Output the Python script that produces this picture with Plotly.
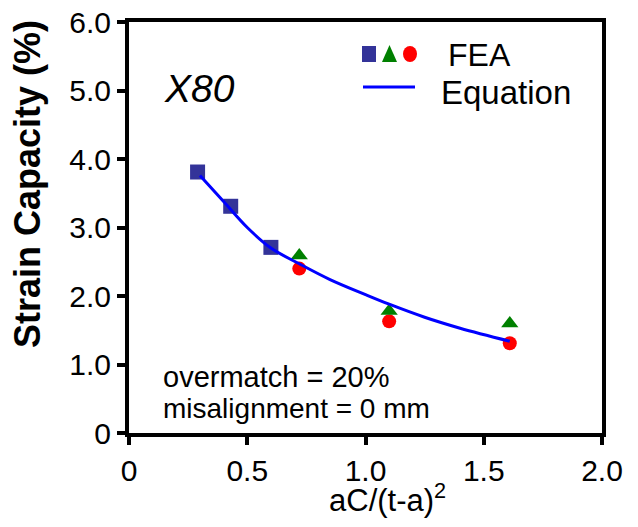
import plotly.graph_objects as go

# Data
sq_x = [0.29, 0.43, 0.60]
sq_y = [3.81, 3.31, 2.71]
tri_x = [0.72, 1.10, 1.61]
tri_y = [2.59, 1.78, 1.60]
cir_x = [0.72, 1.10, 1.61]
cir_y = [2.40, 1.63, 1.31]
eq_x = [0.30, 0.40, 0.50, 0.60, 0.72, 0.85, 1.00, 1.10, 1.25, 1.40, 1.61]
eq_y = [3.76, 3.38, 3.00, 2.70, 2.47, 2.24, 2.02, 1.88, 1.69, 1.53, 1.34]

x_ticks = [0, 0.5, 1.0, 1.5, 2.0]
x_ticktext = ["0", "0.5", "1.0", "1.5", "2.0"]
y_ticks = [0, 1, 2, 3, 4, 5, 6]
y_ticktext = ["0", "1.0", "2.0", "3.0", "4.0", "5.0", "6.0"]

FONT = "Liberation Sans, Arial, Helvetica, sans-serif"
NAVY = "#333399"
GREEN = "#008000"
RED = "#FF0000"
BLUE = "#0000FF"

fig = go.Figure()
fig.add_trace(go.Scatter(x=sq_x, y=sq_y, mode="markers",
                         marker=dict(symbol="square", size=15, color=NAVY, line=dict(width=0)),
                         showlegend=False))
fig.add_trace(go.Scatter(x=cir_x, y=cir_y, mode="markers",
                         marker=dict(symbol="circle", size=14, color=RED, line=dict(width=0)),
                         showlegend=False))
fig.add_trace(go.Scatter(x=tri_x, y=tri_y, mode="markers",
                         marker=dict(symbol="triangle-up", size=15, color=GREEN, line=dict(width=0)),
                         showlegend=False))
fig.add_trace(go.Scatter(x=eq_x, y=eq_y, mode="lines",
                         line=dict(color=BLUE, width=3, shape="spline"),
                         showlegend=False))

# page body margin offset (8px) -> figure is 622x511 placed at (8,8)
OFF = 8
FW, FH = 638 - 2 * OFF, 527 - 2 * OFF
# Plot area in reference pixels: left 129, right 602, top 22, bottom 433
L, R, T, B = 129, 602, 22, 433
W, H = R - L, B - T


def px(X):
    return (X - L) / W


def py(Y):
    return (B - Y) / H


shapes = [
    dict(type="rect", xref="paper", yref="paper", x0=px(362), x1=px(376), y0=py(62), y1=py(46),
         fillcolor=NAVY, line=dict(width=0)),
    dict(type="path", xref="paper", yref="paper",
         path=f"M {px(382)} {py(62)} L {px(397)} {py(62)} L {px(389.5)} {py(45)} Z",
         fillcolor=GREEN, line=dict(width=0)),
    dict(type="circle", xref="paper", yref="paper", x0=px(403), x1=px(417), y0=py(62), y1=py(46),
         fillcolor=RED, line=dict(width=0)),
    dict(type="line", xref="paper", yref="paper", x0=px(363), x1=px(415), y0=py(87), y1=py(87),
         line=dict(color=BLUE, width=3)),
]

annotations = [
    dict(text="FEA", x=px(446), y=py(55), xref="paper", yref="paper", xanchor="left", yanchor="middle",
         showarrow=False, font=dict(family=FONT, size=32, color="black")),
    dict(text="Equation", x=px(439), y=py(92), xref="paper", yref="paper", xanchor="left", yanchor="middle",
         showarrow=False, font=dict(family=FONT, size=33, color="black")),
    dict(text="<i>X80</i>", x=px(162), y=py(88), xref="paper", yref="paper", xanchor="left", yanchor="middle",
         showarrow=False, font=dict(family=FONT, size=39, color="black")),
    dict(text="overmatch = 20%", x=px(161), y=py(377), xref="paper", yref="paper", xanchor="left",
         yanchor="middle", showarrow=False, font=dict(family=FONT, size=29, color="black")),
    dict(text="misalignment = 0 mm", x=px(161), y=py(408), xref="paper", yref="paper", xanchor="left",
         yanchor="middle", showarrow=False, font=dict(family=FONT, size=28, color="black")),
    dict(text="aC/(t-a)<sup>2</sup>", x=px(387), y=py(520), xref="paper", yref="paper", xanchor="center",
         yanchor="bottom", showarrow=False, font=dict(family=FONT, size=31, color="black")),
    dict(text="<b>Strain Capacity (%)</b>", x=px(28), y=py(184), xref="paper", yref="paper",
         xanchor="center", yanchor="middle", textangle=-90, showarrow=False,
         font=dict(family=FONT, size=36, color="black")),
]

fig.update_layout(
    width=FW, height=FH,
    margin=dict(l=L - OFF, r=FW - (R - OFF), t=T - OFF, b=FH - (B - OFF), pad=0, autoexpand=False),
    paper_bgcolor="white", plot_bgcolor="white",
    font=dict(family=FONT, color="black"),
    shapes=shapes, annotations=annotations,
    showlegend=False,
)
common = dict(ticks="outside", ticklen=8, tickwidth=4, tickcolor="black", showline=True, linewidth=4,
              linecolor="black", mirror=True, showgrid=False, zeroline=False, automargin=False,
              tickfont=dict(family=FONT, size=30), ticklabeloverflow="allow")
fig.update_xaxes(range=[0, 2.0], tickvals=x_ticks, ticktext=x_ticktext, **common)
fig.update_yaxes(range=[0, 6.0], tickvals=y_ticks, ticktext=y_ticktext, **common)

fig.write_html("out.html")
